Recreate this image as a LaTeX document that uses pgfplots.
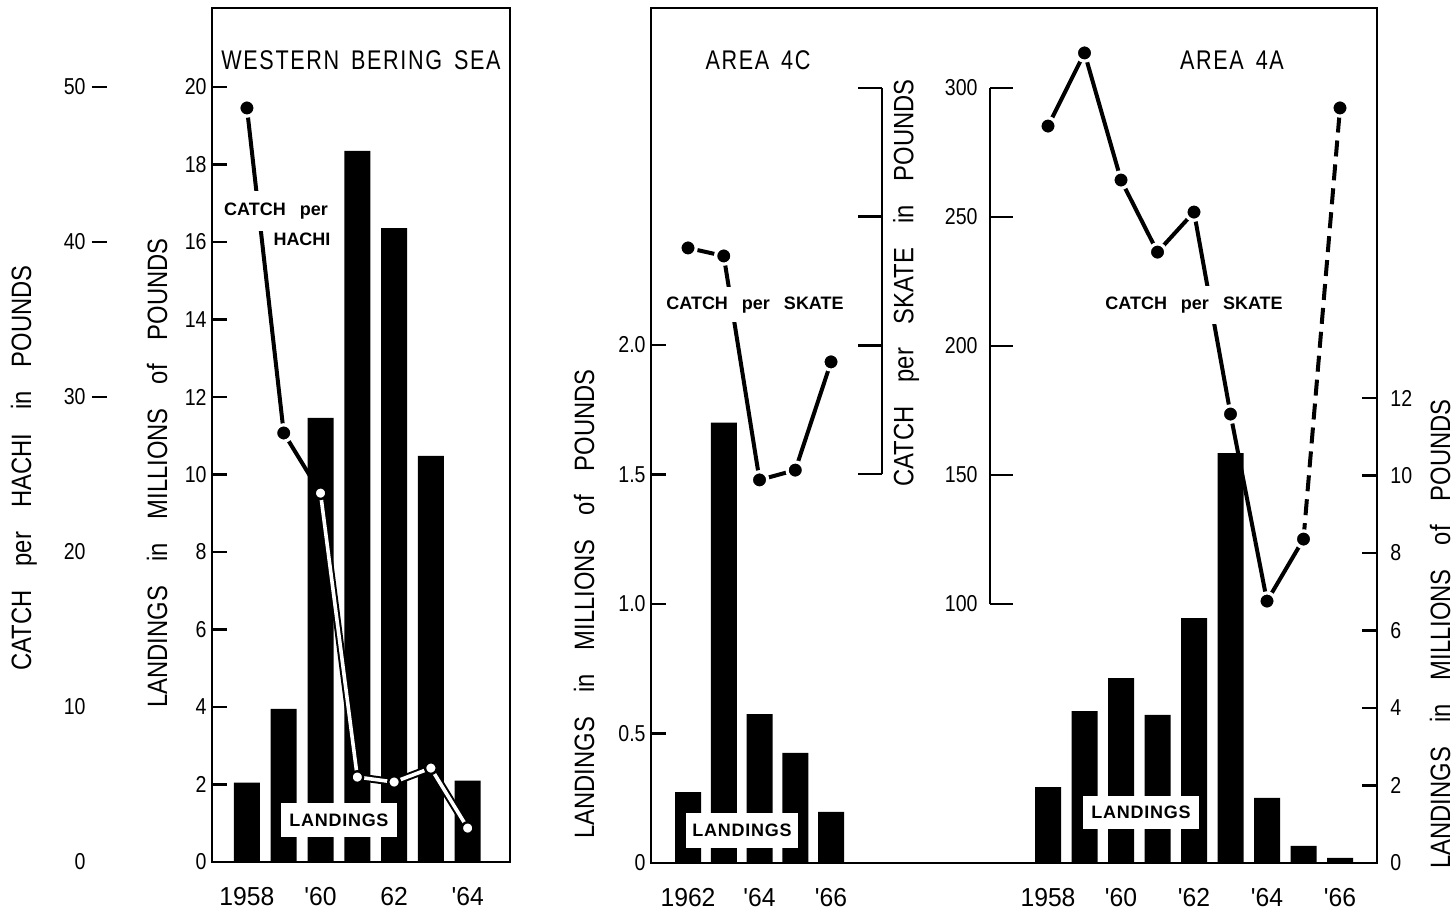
\documentclass[border=0pt]{standalone}
\usepackage{fontspec}
\setmainfont{Liberation Sans}
\newfontfamily\cond[FakeStretch=0.85]{Liberation Sans}
\newfontfamily\xfont[FakeStretch=0.95]{Liberation Sans}
\newfontfamily\titlefont[FakeStretch=0.8,LetterSpace=6]{Liberation Sans}
\newfontfamily\boldlab[LetterSpace=4]{Liberation Sans}
\usepackage{pgfplots}
\pgfplotsset{compat=1.18}
\newcommand\gap{\hspace{12pt}}
\newcommand\dashr{\rlap{\hspace{3pt}\rule[3.5pt]{7.5pt}{1pt}}}
\pgfplotsset{
  base/.style={scale only axis, enlargelimits=false, clip=false,
    /pgf/number format/assume math mode=true,
    tick label style={font=\cond\fontsize{11.5}{13}\selectfont},
    xticklabel style={font=\xfont\fontsize{13}{15}\selectfont},
    axis line style={line width=1.2pt},
    every tick/.style={line width=1.2pt, black},
    major tick length=7.5pt, tick align=inside},
  dotmark/.style={mark=*, mark size=4.1pt, mark options={fill=black, draw=white, line width=1.6pt, solid}},
  openmark/.style={mark=*, mark size=2.9pt, mark options={fill=white, draw=black, line width=1.2pt, solid}},
  barstyle/.style={ybar, bar width=13pt, bar shift=0pt, fill=black, draw=none},
}
\begin{document}
\begin{tikzpicture}
\useasboundingbox (0,0) rectangle (727pt,458pt);

% ---------------- Western Bering Sea: landings ----------------
\begin{axis}[base, at={(106pt,27pt)}, anchor=south west, width=149pt, height=427pt,
  xmin=1957.05, xmax=1965.15, ymin=0, ymax=22.04,
  ytick pos=left, xtick pos=bottom, xtick style={draw=none},
  ytick={0,2,...,20}, yticklabels={0,2,4,6,8,10,12,14,16,18,20},
  xtick={1958,1960,1962,1964}, xticklabels={1958,'60,62,'64},
  yticklabel style={inner sep=0pt, xshift=-2.5pt},
  xticklabel style={inner sep=0pt, yshift=-12.5pt}]
\addplot[barstyle] coordinates {(1958,2.05)(1959,3.95)(1960,11.46)(1961,18.35)(1962,16.36)(1963,10.48)(1964,2.10)};
\end{axis}

% ---------------- Western Bering Sea: catch per hachi ----------------
\begin{axis}[base, at={(106pt,27pt)}, anchor=south west, width=149pt, height=427pt,
  xmin=1957.05, xmax=1965.15, ymin=0, ymax=55.1,
  axis y line*=left, axis x line=none, y axis line style={draw=none}, ytick style={draw=none},
  ytick={0,10,...,50}, yticklabels={0,10,20,30\dashr,40\dashr,50\dashr},
  yticklabel style={inner sep=0pt, xshift=-63pt}]
\addplot[black, line width=2pt, line join=round] coordinates {(1958,48.65)(1959,27.68)(1960,23.8)};
\addplot[draw=black, line width=1pt, double=white, double distance=1.8pt, line join=round] coordinates {(1960,23.8)(1961,5.48)(1962,5.16)(1963,6.06)(1964,2.19)};
\addplot[only marks, dotmark] coordinates {(1958,48.65)(1959,27.68)};
\addplot[only marks, openmark] coordinates {(1960,23.8)(1961,5.48)(1962,5.16)(1963,6.06)(1964,2.19)};
\end{axis}

% ---------------- Area 4C: landings ----------------
\begin{axis}[base, at={(325.5pt,26.5pt)}, anchor=south west, width=363pt, height=427.5pt,
  xmin=1960.965, xmax=1981.27, ymin=0, ymax=3.301,
  ytick pos=left, xtick pos=bottom, xtick style={draw=none},
  ytick={0,0.5,1,1.5,2}, yticklabels={0,0.5,1.0,1.5,2.0},
  xtick={1962,1964,1966}, xticklabels={1962,'64,'66},
  yticklabel style={inner sep=0pt, xshift=-2.5pt},
  xticklabel style={inner sep=0pt, yshift=-12.5pt}]
\addplot[barstyle] coordinates {(1962,0.274)(1963,1.70)(1964,0.575)(1965,0.425)(1966,0.197)};
\end{axis}

% ---------------- Area 4A: landings ----------------
\begin{axis}[base, at={(325.5pt,26.5pt)}, anchor=south west, width=363pt, height=427.5pt,
  xmin=1947.123, xmax=1967.014, ymin=0, ymax=22.065,
  axis y line*=right, axis x line*=bottom, xtick style={draw=none},
  ytick={0,2,...,12}, yticklabels={0,2,4,6,8,10,12},
  xtick={1958,1960,1962,1964,1966}, xticklabels={1958,'60,'62,'64,'66},
  yticklabel style={anchor=west, inner sep=0pt, xshift=6.5pt},
  xticklabel style={inner sep=0pt, yshift=-12.5pt}]
\addplot[barstyle] coordinates {(1958,1.96)(1959,3.92)(1960,4.77)(1961,3.82)(1962,6.32)(1963,10.58)(1964,1.68)(1965,0.44)(1966,0.13)};
\end{axis}

% ---------------- Area 4C: catch per skate ----------------
\begin{axis}[base, at={(325.5pt,26.5pt)}, anchor=south west, width=363pt, height=427.5pt,
  xmin=1960.965, xmax=1981.27, ymin=0, ymax=331, hide axis]
\addplot[black, line width=2pt, dotmark] coordinates {(1962,238.1)(1963,235.0)(1964,148.3)(1965,152.1)(1966,194.0)};
\end{axis}

% ---------------- Area 4A: catch per skate ----------------
\begin{axis}[base, at={(325.5pt,26.5pt)}, anchor=south west, width=363pt, height=427.5pt,
  xmin=1947.123, xmax=1967.014, ymin=0, ymax=331, hide axis]
\addplot[black, line width=2pt, line join=round] coordinates {(1958,285.3)(1959,313.6)(1960,264.4)(1961,236.5)(1962,252.0)(1963,173.8)(1964,101.4)(1965,125.4)};
\addplot[black, line width=2pt, dash pattern=on 8pt off 4pt] coordinates {(1965,125.4)(1966,292.3)};
\addplot[only marks, dotmark] coordinates {(1958,285.3)(1959,313.6)(1960,264.4)(1961,236.5)(1962,252.0)(1963,173.8)(1964,101.4)(1965,125.4)(1966,292.3)};
\end{axis}

% ---------------- partial catch-per-skate axes ----------------
\begin{axis}[base, at={(441pt,221pt)}, anchor=south east, width=0.5pt, height=193pt,
  xmin=0, xmax=1, ymin=150, ymax=300, axis y line*=right, axis x line=none,
  ytick={150,200,250,300}, yticklabels={}, major tick length=12pt]
\end{axis}
\begin{axis}[base, at={(495pt,156pt)}, anchor=south west, width=0.5pt, height=258pt,
  xmin=0, xmax=1, ymin=100, ymax=300, axis y line*=left, axis x line=none,
  ytick={100,150,200,250,300}, yticklabels={100,150,200,250,300}, major tick length=11.5pt,
  yticklabel style={inner sep=0pt, xshift=-6pt}]
\end{axis}

% ---------------- texts ----------------
\node[font=\cond\fontsize{14}{16}\selectfont, rotate=90, inner sep=0pt] at (12pt,224pt) {CATCH\gap per\gap HACHI\gap in\gap POUNDS};
\node[font=\cond\fontsize{14}{16}\selectfont, rotate=90, inner sep=0pt] at (78.5pt,221.5pt) {LANDINGS\gap in\gap MILLIONS\gap of\gap POUNDS};
\node[font=\cond\fontsize{14}{16}\selectfont, rotate=90, inner sep=0pt] at (292pt,156pt) {LANDINGS\gap in\gap MILLIONS\gap of\gap POUNDS};
\node[font=\cond\fontsize{14}{16}\selectfont, rotate=90, inner sep=0pt] at (453pt,316.5pt) {CATCH\gap per\gap SKATE\gap in\gap POUNDS};
\node[font=\cond\fontsize{14}{16}\selectfont, rotate=90, inner sep=0pt] at (720pt,141pt) {LANDINGS\gap in\gap MILLIONS\gap of\gap POUNDS};

\node[font=\titlefont\fontsize{13.5}{15}\selectfont] at (180.5pt,428pt) {WESTERN\hspace{6pt}BERING\hspace{6pt}SEA};
\node[font=\titlefont\fontsize{13.5}{15}\selectfont] at (379pt,428pt) {AREA\hspace{6pt}4C};
\node[font=\titlefont\fontsize{13.5}{15}\selectfont] at (616pt,428pt) {AREA\hspace{6pt}4A};

\node[font=\bfseries\fontsize{9}{10}\selectfont, fill=white, inner xsep=2pt, inner ysep=6pt] at (138pt,352.5pt) {CATCH\hspace{7pt}per};
\node[font=\bfseries\fontsize{9}{10}\selectfont, inner sep=1pt] at (151pt,338.5pt) {HACHI};
\node[font=\bfseries\fontsize{9}{10}\selectfont, fill=white, minimum width=96pt, minimum height=17.5pt, inner sep=0pt] at (377.5pt,305.5pt) {CATCH\hspace{7pt}per\hspace{7pt}SKATE};
\node[font=\bfseries\fontsize{9}{10}\selectfont, fill=white, minimum width=96pt, minimum height=19pt, inner sep=0pt] at (597pt,305.5pt) {CATCH\hspace{7pt}per\hspace{7pt}SKATE};

\node[font=\boldlab\bfseries\fontsize{9}{10}\selectfont, fill=white, minimum width=58pt, minimum height=17pt, inner sep=0pt] at (169.5pt,48pt) {LANDINGS};
\node[font=\boldlab\bfseries\fontsize{9}{10}\selectfont, fill=white, minimum width=56pt, minimum height=17.5pt, inner sep=0pt] at (371pt,43pt) {LANDINGS};
\node[font=\boldlab\bfseries\fontsize{9}{10}\selectfont, fill=white, minimum width=58pt, minimum height=16.5pt, inner sep=0pt] at (570.5pt,52pt) {LANDINGS};
\end{tikzpicture}
\end{document}
